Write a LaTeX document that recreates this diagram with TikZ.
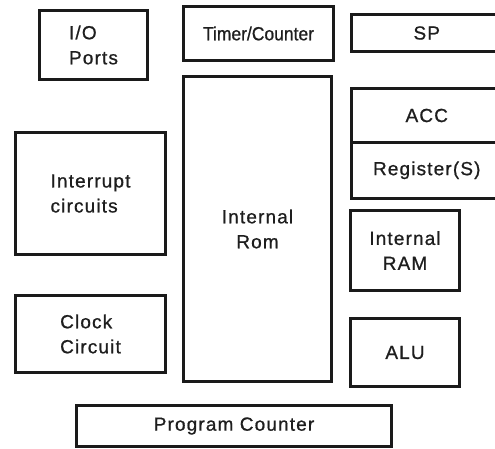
\documentclass[tikz,border=0pt]{standalone}
\usepackage{fontspec}
\setmainfont[LetterSpace=6,FakeBold=0.8]{Liberation Sans}
\newfontfamily\narrowfont[FakeStretch=0.92,FakeBold=0.8]{Liberation Sans}
\usetikzlibrary{positioning}
\definecolor{blockline}{HTML}{1A1A1A}
\definecolor{blocktext}{HTML}{1E1E1E}
\tikzset{
  blockbox/.style={draw=blockline, line width=3pt, fill=white, inner sep=0pt,
    text=blocktext, font=\fontsize{19}{25}\selectfont},
  leftbox/.style={blockbox, align=left},
  midbox/.style={blockbox, align=center}
}

\begin{document}
\begin{tikzpicture}[x=1pt,y=-1pt]
  \useasboundingbox (0,0) rectangle (495,448);
  \clip (0,0) rectangle (495,448);
  % left column
  \node[leftbox, minimum width=108pt, minimum height=69pt] (io) at (93.5,45) {I/O\\Ports};
  \node[leftbox, minimum width=150pt, minimum height=122pt] (intr) at (90.5,193.5) {Interrupt\\circuits};
  \node[leftbox, minimum width=150pt, minimum height=77pt] (clk) at (90.5,334) {Clock\\Circuit};
  % middle column
  \node[midbox, minimum width=150pt, minimum height=54pt, font=\narrowfont\fontsize{19}{25}\selectfont] (timer) at (258.5,33.5) {Timer/Counter};
  \node[midbox, minimum width=148pt, minimum height=305pt] (rom) at (257.5,229) {Internal\\Rom};
  % right column
  \node[midbox, minimum width=150.5pt, minimum height=37pt] (sp) at (426.75,33) {SP};
  \node[midbox, minimum width=150.5pt, minimum height=54pt] (acc) at (426.75,115.5) {ACC};
  \node[midbox, minimum width=150.5pt, minimum height=55.5pt] (reg) at (426.75,170.25) {Register(S)};
  \node[midbox, minimum width=109pt, minimum height=80pt] (ram) at (405,250.5) {Internal\\RAM};
  \node[midbox, minimum width=109pt, minimum height=68pt] (alu) at (405,352.5) {ALU};
  % bottom
  \node[midbox, minimum width=315pt, minimum height=41.5pt] (pc) at (234,426) {Program Counter};
\end{tikzpicture}
\end{document}
